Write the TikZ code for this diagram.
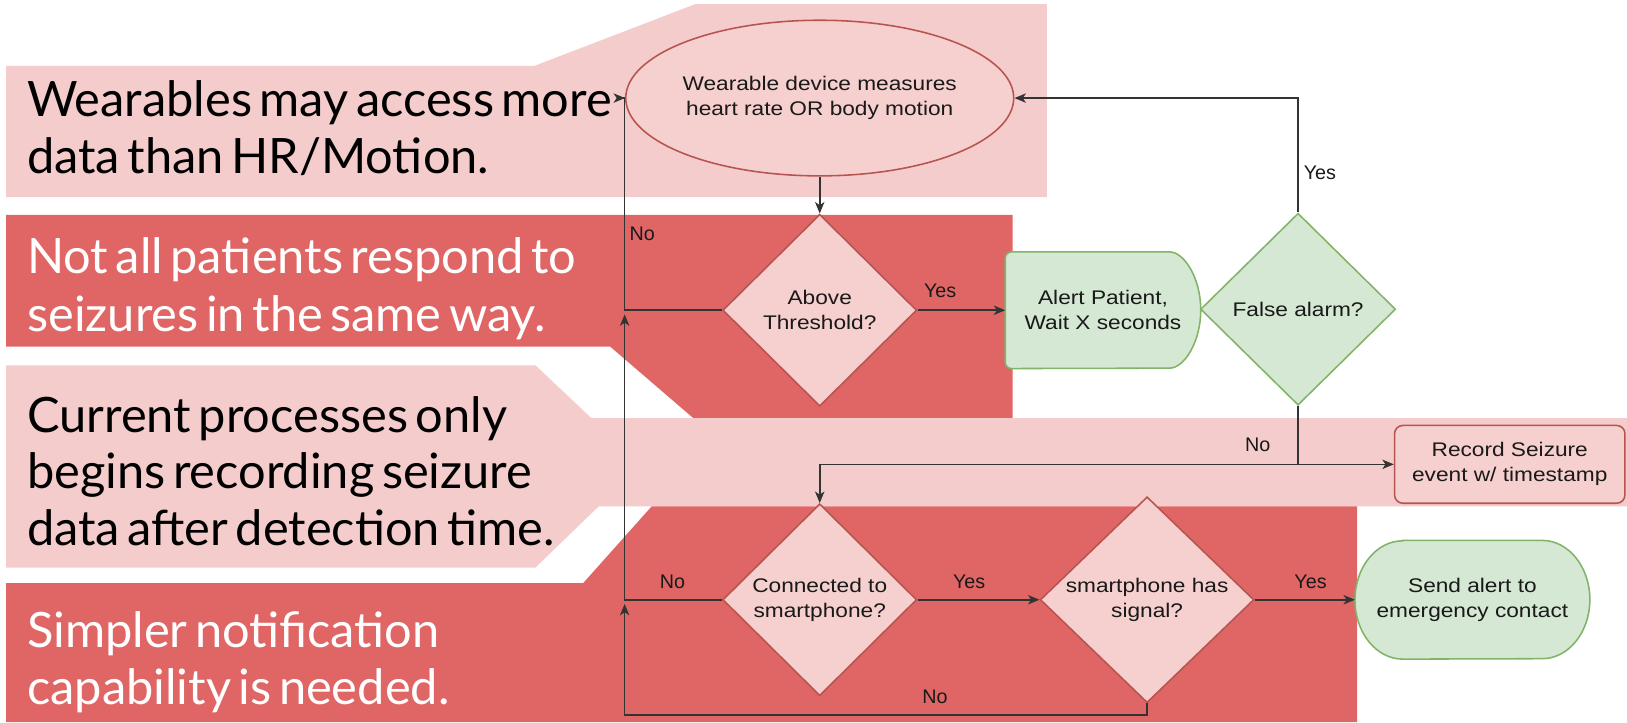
\documentclass[tikz,border=0pt]{standalone}
\usepackage{fontspec}
\setmainfont{Liberation Sans}
\newfontfamily\latofont{Lato}[WordSpace=0.6]
\newfontfamily\dfont{Liberation Sans}[FakeStretch=1.15]
\usetikzlibrary{shapes.geometric,arrows.meta,calc}
\definecolor{bgpink}{HTML}{F4CCCC}
\definecolor{bgred}{HTML}{E06666}
\definecolor{npink}{HTML}{F6D0CE}
\definecolor{nred}{HTML}{B85450}
\definecolor{ngreen}{HTML}{D5E8D4}
\definecolor{ngreenb}{HTML}{82B366}
\definecolor{lnc}{HTML}{333333}
\pgfdeclarelayer{back}
\pgfdeclarelayer{mid}
\pgfsetlayers{back,mid,main}
\begin{document}
\begin{tikzpicture}[x=1pt,y=-1pt,
  bigtxt/.style={font=\latofont\fontsize{47}{54}\selectfont, anchor=base west, inner sep=0pt},
  dtxt/.style={font=\dfont\fontsize{19}{24}\selectfont, text=black!90, align=center, inner sep=0pt},
  pinknode/.style={dtxt, fill=npink, draw=nred, line width=1.5pt},
  greennode/.style={dtxt, fill=ngreen, draw=ngreenb, line width=1.5pt},
  decision/.style={diamond, minimum width=#1, minimum height=185pt},
  conn/.style={draw=lnc, line width=1.6pt, -{Stealth[length=11pt,width=9pt,inset=3pt]}},
  plainline/.style={draw=lnc, line width=1.6pt},
  lbl/.style={font=\fontsize{19}{22}\selectfont, text=black!90, inner sep=0pt},
  outline/.style={line width=1.5pt}]
\useasboundingbox (0,0) rectangle (1568,696);

% ---- background bands ----
\begin{pgfonlayer}{back}
\fill[bgpink] (6,63.5) -- (515,63.5) -- (670,4) -- (1009,4) -- (1009,190) -- (6,190) -- cycle;
\fill[bgred] (6,207) -- (976,207) -- (976,408) -- (674,408) -- (588,334) -- (6,334) -- cycle;
\fill[bgpink] (6,352) -- (516,352) -- (570,403) -- (1568,403) -- (1568,488) -- (577,488) -- (516,547) -- (6,547) -- cycle;
\fill[bgred] (628,488) -- (1308,488) -- (1308,696) -- (6,696) -- (6,562) -- (562,562) -- cycle;
\end{pgfonlayer}

% ---- callout texts ----
\node[bigtxt] (w1) at (26,112) {Wearables may access more};
\node[bigtxt] (w2) at (26,167) {data than HR/Motion.};
\node[bigtxt, text=white] (p1) at (26,264) {Not all patients respond to};
\node[bigtxt, text=white] (p2) at (26,319) {seizures in the same way.};
\node[bigtxt] (c1) at (26,417) {Current processes only};
\node[bigtxt] (c2) at (26,471) {begins recording seizure};
\node[bigtxt] (c3) at (26,526) {data after detection time.};
\node[bigtxt, text=white] (s1) at (26,624) {Simpler notification};
\node[bigtxt, text=white] (s2) at (26,679) {capability is needed.};

% ---- flowchart nodes ----
\node[pinknode, ellipse, minimum width=302pt, minimum height=150pt] (E) at (790,94.5)
  {Wearable device measures\\heart rate OR body motion};
\node[pinknode, decision=187pt] (T) at (790,299) {Above\\Threshold?};
\node[dtxt, minimum width=188pt, minimum height=112pt] (A) at (1063,299) {Alert Patient,\\Wait X seconds};
\node[greennode, decision=188pt] (F) at (1251,298) {False alarm?};
\node[pinknode, rounded corners=8pt, minimum width=222pt, minimum height=75pt] (R) at (1455,447.5)
  {Record Seizure\\event w/ timestamp};
\node[pinknode, decision=187pt] (C) at (790,578) {Connected to\\smartphone?};
\node[pinknode, decision=206pt] (S) at (1105.5,578) {smartphone has\\signal?};
\node[dtxt, minimum width=226pt, minimum height=114pt] (N) at (1419,578) {Send alert to\\emergency contact};

% custom outlines (delay shape and terminator)
\begin{pgfonlayer}{mid}
\filldraw[fill=ngreen, draw=ngreenb, outline, rounded corners=6pt]
  ($(A.north east)+(-36,0)$) arc[start angle=-90, end angle=90, x radius=36, y radius=56]
  -- (A.south west) -- (A.north west) -- cycle;
\filldraw[fill=ngreen, draw=ngreenb, outline]
  ($(N.north west)+(46,0)$) -- ($(N.north east)+(-46,0)$)
  arc[start angle=-90, end angle=90, x radius=46, y radius=57]
  -- ($(N.south west)+(46,0)$)
  arc[start angle=90, end angle=270, x radius=46, y radius=57] -- cycle;
\end{pgfonlayer}

% ---- connectors ----
\coordinate (L) at (602,0);
\coordinate (B) at (0,689);
\draw[conn] (E.south) -- (T.north);
\draw[conn] (T.west) -- (T.west -| L) -- (E.west -| L) -- (E.west);
\draw[conn] (T.east) -- (A.west);
\draw[conn] (F.north) |- (E.east);
\coordinate (J) at (F.south |- R.west);
\draw[plainline] (F.south) -- (J);
\draw[conn] (J) -- (R.west);
\draw[conn] (J) -| (C.north);
\draw[conn] (C.west) -- (C.west -| L) -- ($(T.west -| L)+(0,4)$);
\draw[conn] (C.east) -- (S.west);
\draw[conn] (S.east) -- (N.west);
\draw[conn] (S.south) -- (S.south |- B) -- (L |- B) -- ($(C.west -| L)+(0,4)$);

% ---- labels ----
\node[lbl] (lno1) at (619,225) {No};
\node[lbl] (lyes1) at (906,280) {Yes};
\node[lbl] (lyes2) at (1272,167) {Yes};
\node[lbl] (lno2) at (1212,429) {No};
\node[lbl] (lno3) at (648,561) {No};
\node[lbl] (lyes3) at (934,561) {Yes};
\node[lbl] (lyes4) at (1263,561) {Yes};
\node[lbl] (lno4) at (901,672) {No};
\end{tikzpicture}
\end{document}
